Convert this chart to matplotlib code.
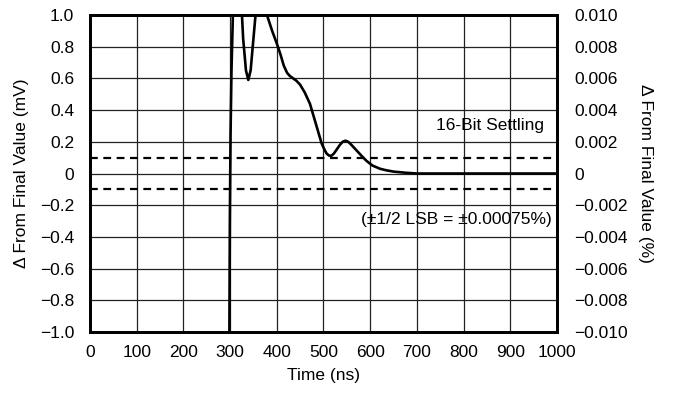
import numpy as np
import matplotlib.pyplot as plt

plt.rcParams['font.family'] = ['Liberation Sans', 'DejaVu Sans']
plt.rcParams['axes.unicode_minus'] = True

# settling response (time in ns, delta in mV)
time_ns = [290, 297, 298.5, 299.5, 301, 303, 306, 310, 316, 322, 328, 334, 339,
           344, 350, 356, 362, 368, 374, 380, 390, 400, 408, 415, 422, 428, 435,
           442, 450, 460, 471, 480, 489, 496, 503, 507, 512, 517, 522, 528, 535,
           541, 547, 553, 560, 571, 582, 592, 605, 621, 635, 650, 675, 700, 800, 1000]
delta_mv = [-3.0, -1.6, -1.0, -0.3, 0.25, 0.65, 1.0, 1.4, 1.5, 1.2, 0.85, 0.65, 0.59,
            0.65, 0.85, 1.05, 1.2, 1.15, 1.05, 0.99, 0.9, 0.82, 0.75, 0.68, 0.635, 0.615, 0.6,
            0.585, 0.56, 0.51, 0.44, 0.35, 0.26, 0.19, 0.145, 0.125, 0.113, 0.112, 0.125, 0.15, 0.18,
            0.2, 0.207, 0.2, 0.18, 0.145, 0.11, 0.08, 0.05, 0.03, 0.02, 0.012, 0.005, 0.0, 0.0, 0.0]

lsb_band = 0.1  # mV, 16-bit settling band
x_ticks = [0, 100, 200, 300, 400, 500, 600, 700, 800, 900, 1000]
y_ticks = [-1.0, -0.8, -0.6, -0.4, -0.2, 0, 0.2, 0.4, 0.6, 0.8, 1.0]
y_labels = ['\u22121.0', '\u22120.8', '\u22120.6', '\u22120.4', '\u22120.2', '0',
            '0.2', '0.4', '0.6', '0.8', '1.0']
y2_ticks = [-0.010, -0.008, -0.006, -0.004, -0.002, 0, 0.002, 0.004, 0.006, 0.008, 0.010]
y2_labels = ['\u22120.010', '\u22120.008', '\u22120.006', '\u22120.004', '\u22120.002', '0',
             '0.002', '0.004', '0.006', '0.008', '0.010']

fs = 12.5
fig = plt.figure(figsize=(6.74, 3.93), dpi=100)
ax = fig.add_axes([0.1335, 0.155, 0.6929, 0.807])

ax.plot(time_ns, delta_mv, color='black', lw=1.9, zorder=3, clip_on=True)
for yv in (lsb_band, -lsb_band):
    ax.axhline(yv, color='black', lw=1.6, ls=(0, (3.5, 2.5)), zorder=2)

ax.set_xlim(0, 1000)
ax.set_ylim(-1.0, 1.0)
ax.set_xticks(x_ticks)
ax.set_xticklabels([str(t) for t in x_ticks], fontsize=fs)
ax.set_yticks(y_ticks)
ax.set_yticklabels(y_labels, fontsize=fs)
ax.tick_params(axis='x', length=0, pad=9)
ax.tick_params(axis='y', length=0, pad=11.5)
ax.grid(True, color='#222222', lw=0.9)
for s in ax.spines.values():
    s.set_linewidth(2.0)

ax.set_xlabel('Time (ns)', fontsize=fs, labelpad=6)
ax.set_ylabel('\u0394 From Final Value (mV)', fontsize=fs, labelpad=8)

ax.text(972, 0.3, '16-Bit Settling', fontsize=fs, ha='right', va='center')
ax.text(989, -0.29, '(\u00b11/2 LSB = \u00b10.00075%)', fontsize=fs, ha='right', va='center')

ax2 = ax.twinx()
ax2.set_ylim(-0.010, 0.010)
ax2.set_yticks(y2_ticks)
ax2.set_yticklabels(y2_labels, fontsize=fs)
ax2.tick_params(length=0, pad=12.5)
ax2.set_ylabel('\u0394 From Final Value (%)', fontsize=fs, rotation=270, labelpad=18)
for s in ax2.spines.values():
    s.set_linewidth(2.0)

fig.savefig('out.png', dpi=100)
